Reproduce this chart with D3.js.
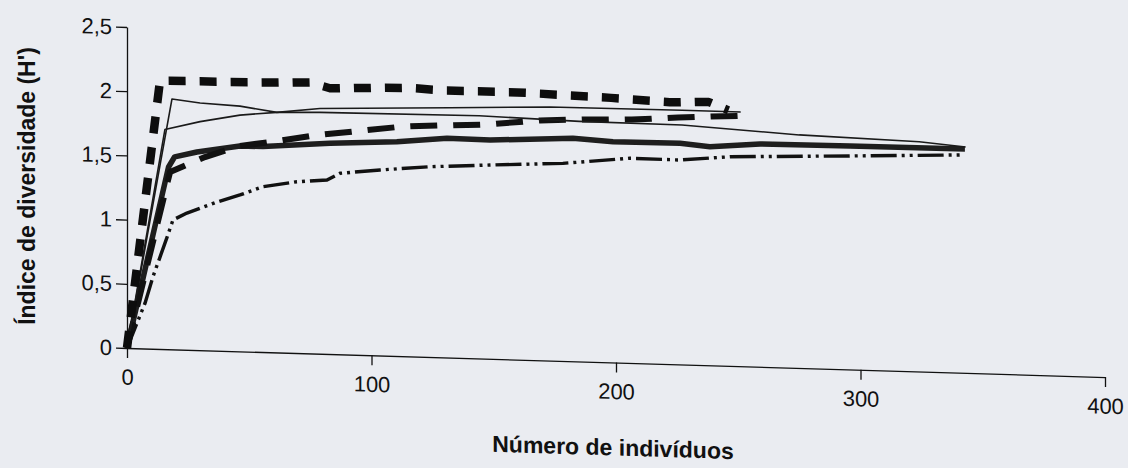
<!DOCTYPE html>
<html>
<head>
<meta charset="utf-8">
<script src="https://cdn.jsdelivr.net/npm/d3@7"></script>
<style>
	body { margin: 0; background: #eaecf1; }
	svg { display: block; font-family: "Liberation Sans", Arial, Helvetica, sans-serif; }
</style>
</head>
<body>
<script>
// tick values
var xTicks = [0, 100, 200, 300, 400];
var yTicks = [0, 0.5, 1, 1.5, 2, 2.5];

// curves: [number of individuals, H']
var curveThickDash = [[0,0],[13.5,2.09],[58,2.10],[75,2.11],[83,2.07],[104,2.085],[117,2.09],[128,2.08],[163,2.08],[198,2.06],[222,2.04],[238,2.05],[246,1.99]];
var curveThinA = [[0,0],[18.4,1.95],[29.9,1.925],[46.2,1.91],[61.3,1.87],[78.9,1.88],[144,1.89],[185,1.87],[227,1.865],[275,1.815],[324,1.79],[343,1.76]];
var curveThinB = [[0,0],[15.5,1.71],[29.9,1.78],[46.2,1.84],[61.3,1.87],[78.9,1.91],[132,1.946],[173,1.975],[227,1.98],[251,1.98]];
var curveLongDash = [[0,0],[17.6,1.38],[31.9,1.505],[46.2,1.60],[59.7,1.64],[76.9,1.70],[94.5,1.743],[112.9,1.789],[132.1,1.81],[146.4,1.823],[169,1.868],[187,1.886],[206.5,1.896],[225.4,1.923],[250.7,1.95]];
var curveSolid = [[0,0],[17,1.42],[19.5,1.50],[28.6,1.543],[46.2,1.60],[55.6,1.60],[83,1.641],[110.4,1.669],[130.9,1.707],[148.5,1.704],[182.4,1.736],[198.8,1.719],[226.2,1.722],[238.4,1.703],[258.9,1.735],[295.7,1.74],[342.7,1.744]];
var curveDashDot = [[0,0],[7.4,0.355],[10.6,0.56],[13.5,0.716],[16.4,0.873],[18.8,1.008],[24.5,1.065],[36.8,1.158],[46.2,1.218],[55.6,1.288],[69.5,1.334],[81.8,1.355],[87.1,1.41],[103.5,1.445],[123.9,1.482],[148.5,1.509],[178.3,1.539],[205.7,1.594],[226.2,1.592],[246.6,1.629],[295.7,1.663],[340.7,1.696]];

var params = {
	width: 1128, height: 468,
	left: 127, top: 27,
	plotW: 978, plotH: 321,
	slope: 0.0297,   // the scanned page is slightly sheared
	ink: "#111"
};

var svg = d3.select("body").append("svg")
	.attr("width", params.width)
	.attr("height", params.height);

var skew = Math.atan(params.slope) * 180 / Math.PI;
var g = svg.append("g")
	.attr("transform", "translate(" + params.left + "," + params.top + ") skewY(" + skew + ")");

var x = d3.scaleLinear().domain([0, 400]).range([0, params.plotW]);
var y = d3.scaleLinear().domain([0, 2.5]).range([params.plotH, 0]);

//axes
var yAxis = g.append("g")
	.call(d3.axisLeft(y).tickValues(yTicks).tickSize(11).tickSizeOuter(0).tickPadding(4)
		.tickFormat(function(d){ return String(d).replace(".", ","); }));
var xAxis = g.append("g")
	.attr("transform", "translate(0," + params.plotH + ")")
	.call(d3.axisBottom(x).tickValues(xTicks).tickSize(10).tickSizeOuter(0).tickPadding(11));

[yAxis, xAxis].forEach(function(a){
	a.select(".domain").attr("stroke", params.ink).attr("stroke-width", 1.3);
	a.selectAll(".tick line").attr("stroke", params.ink).attr("stroke-width", 1.3);
	a.selectAll(".tick text").attr("fill", params.ink).style("font-size", "22px");
});

//curves
var line = d3.line()
	.x(function(d){ return x(d[0]); })
	.y(function(d){ return y(d[1]); });

var series = [
	{data: curveDashDot,   color: "#111", width: 3.4, dash: "26,5,3,5,3,5"},
	{data: curveSolid,     color: "#1e1e1e", width: 5.5, dash: null},
	{data: curveLongDash,  color: "#111", width: 6, dash: "27,16"},
	{data: curveThinA,     color: "#1a1a1a", width: 1.6, dash: null},
	{data: curveThinB,     color: "#1a1a1a", width: 1.6, dash: null},
	{data: curveThickDash, color: "#0d0d0d", width: 8.5, dash: "17,14"}
];

g.append("g").selectAll("path")
	.data(series).enter().append("path")
		.attr("d", function(d){ return line(d.data); })
		.attr("fill", "none")
		.attr("stroke", function(d){ return d.color; })
		.attr("stroke-width", function(d){ return d.width; })
		.attr("stroke-dasharray", function(d){ return d.dash; })
		.attr("stroke-linejoin", "round");

//titles
g.append("text")
	.attr("x", 486)
	.attr("y", 414)
	.attr("text-anchor", "middle")
	.attr("fill", params.ink)
	.style("font-size", "23px")
	.style("font-weight", "bold")
	.text("Número de indivíduos");

svg.append("text")
	.attr("transform", "translate(35,186) rotate(-90)")
	.attr("text-anchor", "middle")
	.attr("fill", params.ink)
	.style("font-size", "23px")
	.style("font-weight", "bold")
	.text("Índice de diversidade (H')");
</script>
</body>
</html>
